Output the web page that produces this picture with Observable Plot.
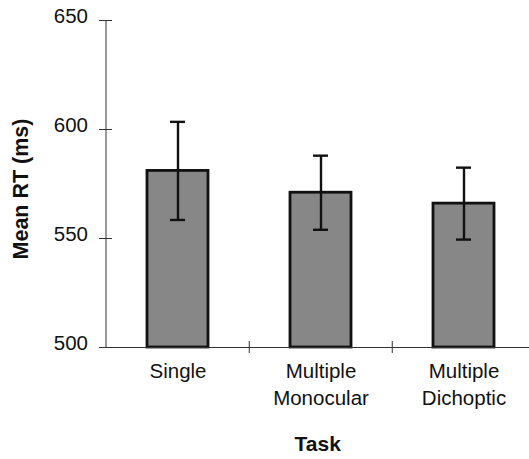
<!DOCTYPE html>
<html>
<head>
<meta charset="utf-8">
<script src="https://cdn.jsdelivr.net/npm/d3@7"></script>
<script src="https://cdn.jsdelivr.net/npm/@observablehq/plot@0.6"></script>
<style>
  html, body { margin: 0; padding: 0; background: #fff; }
  #chart svg { display: block; }
</style>
</head>
<body>
<div id="chart"></div>
<script>
const tasks = ["Single", "Multiple\nMonocular", "Multiple\nDichoptic"];
const meanRT = [581, 571, 566];
const errorRT = [22.5, 17, 16.5];
const yTicks = [500, 550, 600, 650];

const data = tasks.map((t, i) => ({task: t, mean: meanRT[i], lo: meanRT[i] - errorRT[i], hi: meanRT[i] + errorRT[i]}));

const W = 529, H = 459;
const xRange = [105.5, 536];
const step = (xRange[1] - xRange[0]) / tasks.length;
const font = "'Liberation Sans', Arial, sans-serif";

const chart = Plot.plot({
  width: W,
  height: H,
  marginTop: 20,
  marginBottom: 112,
  marginLeft: 105.5,
  marginRight: 0,
  style: {fontFamily: font, fontSize: "20.5px", background: "#fff", color: "#000", overflow: "visible"},
  x: {type: "band", domain: tasks, range: xRange, paddingInner: 0.57, paddingOuter: 0.285},
  y: {domain: [500, 650]},
  marks: [
    Plot.barY(data, {x: "task", y1: 500, y2: "mean", fill: "#878787", stroke: "#111", strokeWidth: 2.8}),
    Plot.ruleX(data, {x: "task", y1: "lo", y2: "hi", stroke: "#111", strokeWidth: 2.4}),
    Plot.tickY(data, {x: "task", y: "hi", stroke: "#111", strokeWidth: 2.4, insetLeft: 23, insetRight: 23}),
    Plot.tickY(data, {x: "task", y: "lo", stroke: "#111", strokeWidth: 2.4, insetLeft: 23, insetRight: 23}),
    Plot.ruleY([500], {stroke: "#333", strokeWidth: 1}),
    Plot.frame({anchor: "left", stroke: "#333", strokeWidth: 1}),
    Plot.axisY({ticks: yTicks, tickSize: 13, dx: 6.5, text: null, label: null, stroke: "#333"}),
    Plot.axisY({ticks: yTicks, tickSize: 0, tickPadding: 18, dy: -4, label: null, fontSize: 20.5, fill: "#111"}),
    Plot.axisX({ticks: tasks.slice(1), tickSize: 12, dy: -6, dx: -step / 2, text: null, label: null, stroke: "#333"}),
    Plot.axisX({tickSize: 0, tickPadding: 12, label: null, fontSize: 20.5, lineHeight: 1.3, fill: "#111"}),
    Plot.text(["Mean RT (ms)"], {frameAnchor: "left", textAnchor: "middle", rotate: -90, dx: -85, dy: 5, fontWeight: "bold", fontSize: 21.5, fill: "#111"}),
    Plot.text(["Task"], {frameAnchor: "bottom", textAnchor: "middle", dy: 103, fontWeight: "bold", fontSize: 21, fill: "#111", letterSpacing: 1})
  ]
});

document.getElementById("chart").appendChild(chart);
</script>
</body>
</html>
